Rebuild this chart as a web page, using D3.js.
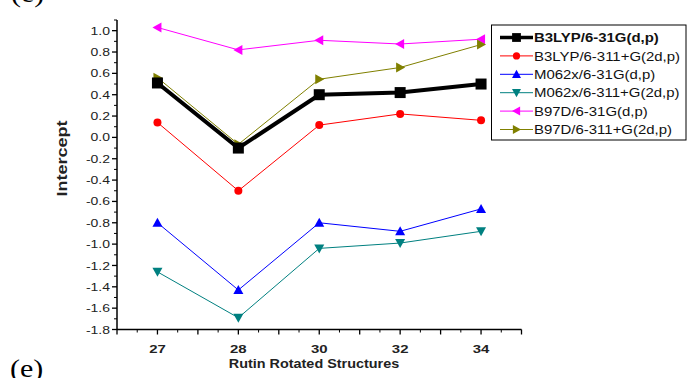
<!DOCTYPE html>
<html>
<head>
<meta charset="utf-8">
<script src="https://cdn.jsdelivr.net/npm/d3@7/dist/d3.min.js"></script>
<style>
  html, body { margin: 0; padding: 0; background: #fff; }
  svg { display: block; }
  text { font-family: Arial, "Liberation Sans", sans-serif; }
</style>
</head>
<body>
<svg id="chart" width="688" height="378"></svg>
<script>
// Rotated rutin conformers on the x axis
const structures = ["27", "28", "30", "32", "34"];

// Intercept values for each functional / basis set
const b3lyp631 = [0.51, -0.10, 0.40, 0.42, 0.50];
const b3lyp6311 = [0.14, -0.50, 0.115, 0.22, 0.16];
const m062x631 = [-0.80, -1.43, -0.80, -0.88, -0.67];
const m062x6311 = [-1.26, -1.69, -1.04, -0.99, -0.88];
const b97d631 = [1.03, 0.82, 0.91, 0.875, 0.92];
const b97d6311 = [0.56, -0.065, 0.545, 0.655, 0.87];

const seriesNames = [
  "B3LYP/6-31G(d,p)", "B3LYP/6-311+G(2d,p)", "M062x/6-31G(d,p)",
  "M062x/6-311+G(2d,p)", "B97D/6-31G(d,p)", "B97D/6-311+G(2d,p)"
];
const yTickLabels = ["-1.8","-1.6","-1.4","-1.2","-1.0","-0.8","-0.6","-0.4","-0.2",
                     "0.0","0.2","0.4","0.6","0.8","1.0"];

const series = [
  { name: seriesNames[0], values: b3lyp631,  color: "#000000", marker: "square", width: 4, size: 11, bold: true },
  { name: seriesNames[1], values: b3lyp6311, color: "#ff0000", marker: "circle", width: 1, size: 8 },
  { name: seriesNames[2], values: m062x631,  color: "#0000ff", marker: "up",     width: 1, size: 10 },
  { name: seriesNames[3], values: m062x6311, color: "#008080", marker: "down",   width: 1, size: 10 },
  { name: seriesNames[4], values: b97d631,   color: "#ff00ff", marker: "left",   width: 1, size: 10 },
  { name: seriesNames[5], values: b97d6311,  color: "#808000", marker: "right",  width: 1, size: 10 }
];

const svg = d3.select("#chart");
const plot = { left: 117, right: 521.5, top: 20, bottom: 329.5 };

// the figure's lettering is slightly wide; draw text with a horizontal stretch
function label(g, x, y, str, opt) {
  const o = Object.assign({ size: 12, anchor: "start", weight: "normal", sx: 1.2, rotate: 0,
                            fill: "#222", family: null, dy: null }, opt || {});
  const t = g.append("text")
    .attr("transform", `translate(${x},${y})${o.rotate ? ` rotate(${o.rotate})` : ""} scale(${o.sx},1)`)
    .attr("text-anchor", o.anchor).attr("font-size", o.size).attr("font-weight", o.weight)
    .attr("fill", o.fill).text(str);
  if (o.family) t.style("font-family", o.family);
  if (o.dy) t.attr("dy", o.dy);
  return t;
}

// index-based x scale: categories sit at 1..5, axis spans 0.5..5.5
const x = d3.scaleLinear().domain([0.5, 5.5]).range([plot.left, plot.right]);
const y = d3.scaleLinear().domain([-1.8, 1.1]).range([plot.bottom, plot.top]);

// ---- axes ----
const xMajor = d3.range(0.5, 5.51, 0.5);
const xMinor = d3.range(0.75, 5.5, 0.5);
const xAxis = svg.append("g").attr("transform", `translate(0,${plot.bottom})`);
xAxis.append("line").attr("x1", plot.left).attr("x2", plot.right)
  .attr("stroke", "#000").attr("stroke-width", 1.5);
xAxis.selectAll("line.maj").data(xMajor).join("line").attr("class", "maj")
  .attr("x1", d => x(d)).attr("x2", d => x(d)).attr("y1", 0).attr("y2", 5)
  .attr("stroke", "#000").attr("stroke-width", 1.3);
xAxis.selectAll("line.min").data(xMinor).join("line").attr("class", "min")
  .attr("x1", d => x(d)).attr("x2", d => x(d)).attr("y1", 0).attr("y2", 3)
  .attr("stroke", "#000").attr("stroke-width", 1);
structures.forEach((s, i) =>
  label(xAxis, x(i + 1), 23, s, { size: 11.5, sx: 1.3, anchor: "middle", weight: "bold" }));

const yAxis = svg.append("g").attr("transform", `translate(${plot.left},0)`);
yAxis.append("line").attr("y1", plot.top).attr("y2", plot.bottom)
  .attr("stroke", "#000").attr("stroke-width", 1.5);
const yMajor = yTickLabels.map(Number);
const yMinor = d3.range(-17, 12, 2).map(v => v / 10);
yAxis.selectAll("line.maj").data(yMajor).join("line").attr("class", "maj")
  .attr("x1", -5).attr("x2", 0).attr("y1", d => y(d)).attr("y2", d => y(d))
  .attr("stroke", "#000").attr("stroke-width", 1.3);
yAxis.selectAll("line.min").data(yMinor).join("line").attr("class", "min")
  .attr("x1", -3).attr("x2", 0).attr("y1", d => y(d)).attr("y2", d => y(d))
  .attr("stroke", "#000").attr("stroke-width", 1);
yTickLabels.forEach(t =>
  label(yAxis, -7, y(+t), t, { size: 11.2, sx: 1.25, anchor: "end", dy: "0.36em" }));

// axis titles
label(svg, 314, 368, "Rutin Rotated Structures", { size: 12, sx: 1.2, anchor: "middle", weight: "bold" });
label(svg, 67, 158.5, "Intercept", { size: 15, sx: 1.2, anchor: "middle", weight: "bold", rotate: -90 });

// panel labels
const serif = "'Liberation Serif', 'Times New Roman', serif";
label(svg, 11, 2, "(e)", { size: 25, sx: 1.2, family: serif, fill: "#000" });
label(svg, 10, 377, "(e)", { size: 25, sx: 1.2, family: serif, fill: "#000" });

// ---- markers ----
function markerPath(type, s) {
  const h = s / 2;
  switch (type) {
    case "square": return `M${-h},${-h}H${h}V${h}H${-h}Z`;
    case "up": return `M0,${-h}L${h},${h * 0.8}L${-h},${h * 0.8}Z`;
    case "down": return `M0,${h}L${h},${-h * 0.8}L${-h},${-h * 0.8}Z`;
    case "left": return `M${-h},0L${h * 0.8},${-h}L${h * 0.8},${h}Z`;
    case "right": return `M${h},0L${-h * 0.8},${-h}L${-h * 0.8},${h}Z`;
  }
  return "";
}
function drawMarker(g, s, cx, cy, scale) {
  const sz = s.size * (scale || 1);
  if (s.marker === "circle") {
    g.append("circle").attr("cx", cx).attr("cy", cy).attr("r", sz / 2).attr("fill", s.color);
  } else {
    g.append("path").attr("transform", `translate(${cx},${cy})`)
      .attr("d", markerPath(s.marker, sz)).attr("fill", s.color);
  }
}

// ---- series lines (drawn bottom-up so the thick black line sits on top) ----
const line = d3.line().x((d, i) => x(i + 1)).y(d => y(d));
const order = [1, 2, 3, 4, 5, 0];
order.forEach(k => {
  const s = series[k];
  const g = svg.append("g");
  g.append("path").attr("d", line(s.values)).attr("fill", "none")
    .attr("stroke", s.color).attr("stroke-width", s.width).attr("stroke-linejoin", "miter");
  s.values.forEach((v, i) => drawMarker(g, s, x(i + 1), y(v)));
});

// ---- legend ----
const lg = svg.append("g");
lg.append("rect").attr("x", 491.5).attr("y", 25).attr("width", 194.5).attr("height", 115)
  .attr("fill", "#fff").attr("stroke", "#000").attr("stroke-width", 1);
series.forEach((s, i) => {
  const cy = 37.5 + i * 18.4;
  lg.append("line").attr("x1", 500).attr("x2", 533).attr("y1", cy).attr("y2", cy)
    .attr("stroke", s.color).attr("stroke-width", s.bold ? 3.5 : 1);
  drawMarker(lg, s, 516.5, cy, s.bold ? 0.8 : 0.9);
  label(lg, 534, cy, s.name, { size: 13, sx: 1.15, weight: s.bold ? "bold" : "normal",
                               fill: "#111", dy: "0.36em" });
});
</script>
</body>
</html>
